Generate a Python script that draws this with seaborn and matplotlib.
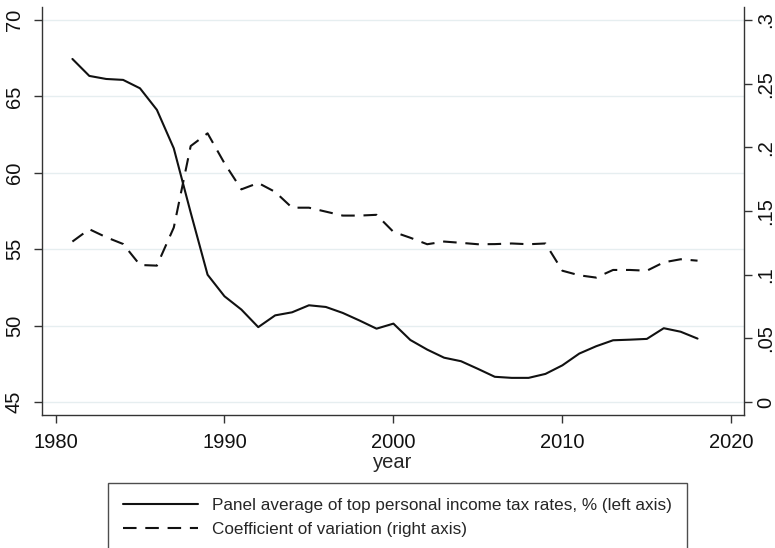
import matplotlib
matplotlib.use("Agg")
import matplotlib.pyplot as plt
import numpy as np
import pandas as pd
import seaborn as sns

sns.set_style("white")
plt.rcParams["font.family"] = ["Liberation Sans", "DejaVu Sans"]

years = list(range(1981, 2019))
top_rate = [67.45, 66.34, 66.14, 66.08, 65.53, 64.12, 61.6, 57.4, 53.33, 51.92,
            51.05, 49.9, 50.67, 50.87, 51.33, 51.22, 50.83, 50.33, 49.8, 50.13,
            49.06, 48.43, 47.9, 47.67, 47.17, 46.65, 46.58, 46.58, 46.84, 47.4,
            48.17, 48.65, 49.04, 49.08, 49.13, 49.83, 49.6, 49.15]
coef_var = [0.126, 0.1357, 0.1294, 0.1241, 0.1076, 0.1071, 0.137, 0.201, 0.211, 0.1875,
            0.167, 0.172, 0.165, 0.1526, 0.1526, 0.1495, 0.1464, 0.1464, 0.147, 0.1336,
            0.129, 0.1239, 0.126, 0.125, 0.1239, 0.124, 0.1245, 0.1239, 0.1245, 0.1031,
            0.0995, 0.0977, 0.1037, 0.1037, 0.1031, 0.1097, 0.1121, 0.111]

df = pd.DataFrame({"year": years, "rate": top_rate, "cv": coef_var})

fig = plt.figure(figsize=(7.75, 5.48), dpi=100)
ax = fig.add_axes([42 / 775, 1 - 415 / 548, (744 - 42) / 775, (415 - 7) / 548])
ax2 = ax.twinx()

sns.lineplot(data=df, x="year", y="rate", ax=ax, color="#111111", lw=1.5,
             label="Panel average of top personal income tax rates, % (left axis)", legend=False)
sns.lineplot(data=df, x="year", y="cv", ax=ax2, color="#111111", lw=1.5,
             linestyle=(0, (6.5, 4.2)), label="Coefficient of variation (right axis)", legend=False)

ax.set_xlim(1979.2, 2020.75)
ax.set_ylim(44.15, 70.85)
ax2.set_ylim(-0.0102, 0.3102)

ax.set_yticks([45, 50, 55, 60, 65, 70])
ax.set_yticklabels(["45", "50", "55", "60", "65", "70"], rotation=90, va="center")
ax2.set_yticks([0, 0.05, 0.1, 0.15, 0.2, 0.25, 0.3])
ax2.set_yticklabels(["0", ".05", ".1", ".15", ".2", ".25", ".3"], rotation=90, va="center")
ax.set_xticks([1980, 1990, 2000, 2010, 2020])

ax.grid(axis="y", color="#e6eef0", lw=1.0)
ax.set_axisbelow(True)
ax.set_xlabel("year", fontsize=14.5, labelpad=1)
ax.set_ylabel("")
ax2.set_ylabel("")

for a in (ax, ax2):
    a.spines["top"].set_visible(False)
    for s in ("left", "bottom", "right"):
        a.spines[s].set_color("#333333")
        a.spines[s].set_linewidth(1.0)
    a.tick_params(length=6, width=1.0, color="#333333", labelsize=14.5, labelcolor="#111111")
ax2.spines["left"].set_visible(False)
ax2.spines["bottom"].set_visible(False)
ax.spines["right"].set_visible(False)
ax.tick_params(axis="y", left=True, pad=7)
ax.tick_params(axis="x", bottom=True, pad=7)
ax2.tick_params(axis="y", right=True, pad=3)

# legend box sits at the bottom and is cut off by the figure edge, as in the original
h1, l1 = ax.get_legend_handles_labels()
h2, l2 = ax2.get_legend_handles_labels()
leg = fig.legend(h1 + h2, l1 + l2, loc="upper left", bbox_to_anchor=(108 / 775, 1 - 483 / 548),
                 ncol=1, fontsize=12.3, frameon=True, fancybox=False, edgecolor="#222222",
                 handlelength=4.4, handletextpad=0.85, borderpad=0.85, labelspacing=0.55,
                 borderaxespad=0)
leg.get_frame().set_linewidth(1.0)

fig.savefig("out.png", dpi=100)
